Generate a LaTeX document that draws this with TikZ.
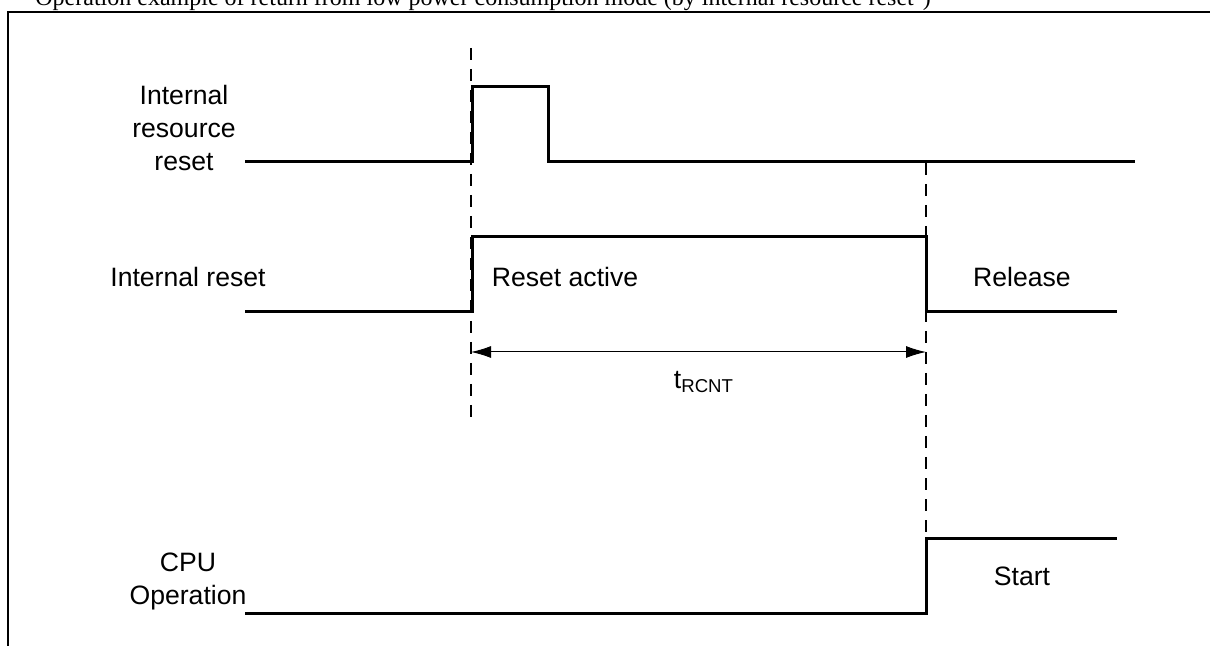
\documentclass[tikz,border=0pt]{standalone}
\usepackage{fontspec}
\setmainfont{Liberation Serif}
\setsansfont{Liberation Sans}
\usetikzlibrary{arrows.meta}

\begin{document}
\begin{tikzpicture}[x=0.5pt,y=-0.5pt,
  sig/.style={line width=1.5pt},
  guide/.style={line width=0.75pt,dash pattern=on 6pt off 4.5pt},
  lbl/.style={font=\sffamily\fontsize{13.3}{16.5}\selectfont,align=center},
  dimline/.style={line width=0.5pt,{Latex[length=10pt,width=6pt]}-{Latex[length=10pt,width=6pt]}}]
\useasboundingbox (0,0) rectangle (1210,646);
% caption and frame
\node[anchor=base west,inner sep=0pt,font=\fontsize{12}{14}\selectfont] (title) at (35,6)
  {Operation example of return from low power consumption mode (by internal resource reset\textsuperscript{*})};
\draw[line width=1pt] (1230,12) -- (8,12) -- (8,670);
% timing edges
\coordinate (ta) at (471,48);
\coordinate (tb) at (471,425);
\coordinate (tc) at (926,163);
\coordinate (td) at (926,538);
\draw[guide] (ta) -- (tb);
\draw[guide] (tc) -- (td);
% internal resource reset
\draw[sig] (245,162) -- (472,162) -- (472,87) -- (548,87) -- (548,162) -- (1135,162);
\node[lbl] (irr) at (184,128) {Internal\\resource\\reset};
% internal reset
\draw[sig] (245,312) -- (472,312) -- (472,237) -- (926,237) -- (926,312) -- (1117,312);
\node[lbl] (ir) at (188,277) {Internal reset};
\node[lbl] (act) at (565,277) {Reset active};
\node[lbl] (rel) at (1022,277) {Release};
% t_RCNT
\coordinate (da) at (471,352);
\coordinate (db) at (926,352);
\draw[dimline] (da) -- (db);
\node[lbl] (trcnt) at (704,382) {t\textsubscript{RCNT}};
% CPU operation
\draw[sig] (245,613) -- (926,613) -- (926,538) -- (1117,538);
\node[lbl] (cpu) at (188,581) {CPU\\Operation};
\node[lbl] (start) at (1022,576) {Start};
\end{tikzpicture}
\end{document}
